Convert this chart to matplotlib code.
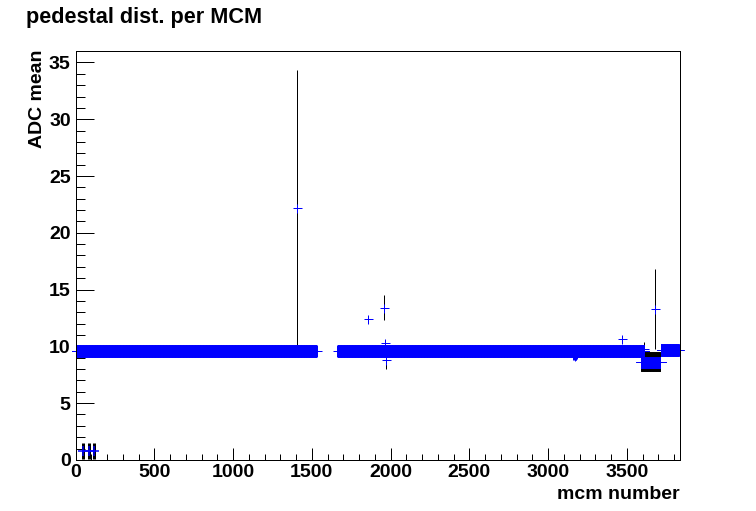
import numpy as np
import matplotlib
matplotlib.use("Agg")
import matplotlib.pyplot as plt
from matplotlib.path import Path
from matplotlib.ticker import MultipleLocator

plt.rcParams['font.family'] = ['Liberation Sans', 'DejaVu Sans']
plt.rcParams['font.weight'] = 'bold'

# ---------------- data ----------------
# regular pedestal band: segments of MCM numbers with their mean ADC level
band_start = [0, 1662, 3715]
band_end = [1530, 3612, 3830]
band_level = [9.6, 9.6, 9.65]

# small dip inside the band
dip_x = [3160, 3165, 3170, 3175, 3180, 3185]
dip_y = [9.35, 9.3, 9.25, 9.3, 9.35, 9.4]

# group of MCMs with lower pedestal and larger spread
block_start = 3590
block_end = 3712
block_level = 8.65
block_err = 0.85

# individual points with visible error bars
out_x = [1407, 1854, 1955, 1962, 1968, 3467, 3612, 3677]
out_y = [22.2, 12.4, 13.4, 10.3, 8.8, 10.65, 9.8, 13.3]
out_err = [12.1, 0.0, 1.1, 0.3, 0.8, 0.0, 0.55, 3.55]

# MCMs near zero
low_x = [46, 83, 115]
low_y = [0.75, 0.75, 0.75]
low_err = [0.7, 0.7, 0.7]

x_ticks = [0, 500, 1000, 1500, 2000, 2500, 3000, 3500]
y_ticks = [0, 5, 10, 15, 20, 25, 30, 35]
x_max = 3840
y_max = 36

title = "pedestal dist. per MCM"
x_title = "mcm number"
y_title = "ADC mean"

# ---------------- figure ----------------
DPI = 100
PX = 72.0 / DPI  # points per pixel
fig = plt.figure(figsize=(7.56, 5.11), dpi=DPI)
ax = fig.add_axes([0.1, 0.1, 0.8, 0.8])

blue = '#0000ff'

# band points
bx, by = [], []
for s, e, lv in zip(band_start, band_end, band_level):
    xs = np.arange(s, e + 1)
    bx.append(xs)
    by.append(np.full(xs.shape, lv))
bx = np.concatenate(bx)
by = np.concatenate(by)

band_marker = Path([(-0.375, 0), (0.375, 0), (0, -0.5), (0, 0.5)],
                   [Path.MOVETO, Path.LINETO, Path.MOVETO, Path.LINETO])

# block
kx = np.arange(block_start, block_end + 1)
ky = np.full(kx.shape, block_level)
ax.vlines(kx, ky - block_err, ky + block_err, color='black', lw=1 * PX, zorder=2)

# outlier and low error bars
ax.vlines(out_x, np.array(out_y) - np.array(out_err), np.array(out_y) + np.array(out_err),
          color='black', lw=1 * PX, zorder=2)
ax.vlines(low_x, np.array(low_y) - np.array(low_err), np.array(low_y) + np.array(low_err),
          color='black', lw=3 * PX, zorder=2)

ax.plot(bx, by, linestyle='none', marker=band_marker, ms=12 * PX, mew=1 * PX,
        color=blue, zorder=3, clip_on=False)
ax.plot(dip_x, dip_y, linestyle='none', marker=band_marker, ms=12 * PX, mew=1 * PX,
        color=blue, zorder=3)
ax.plot(kx, ky, linestyle='none', marker='+', ms=11 * PX, mew=1 * PX, color=blue, zorder=3)
ax.plot(out_x, out_y, linestyle='none', marker='+', ms=9 * PX, mew=1 * PX, color=blue, zorder=4)
ax.plot(low_x, low_y, linestyle='none', marker='+', ms=10 * PX, mew=1.5 * PX, color=blue, zorder=4)

ax.set_xlim(0, x_max)
ax.set_ylim(0, y_max)
ax.set_xticks(x_ticks)
ax.set_yticks(y_ticks)
ax.xaxis.set_minor_locator(MultipleLocator(100))
ax.yaxis.set_minor_locator(MultipleLocator(1))

ax.tick_params(axis='x', which='major', direction='in', length=12 * PX, width=1 * PX,
               labelsize=14, pad=3, top=False)
ax.tick_params(axis='x', which='minor', direction='in', length=6 * PX, width=1 * PX, top=False)
ax.tick_params(axis='y', which='major', direction='in', length=18 * PX, width=1 * PX,
               labelsize=14, pad=3.5, right=False)
ax.tick_params(axis='y', which='minor', direction='in', length=9 * PX, width=1 * PX, right=False)
for lab in ax.get_xticklabels() + ax.get_yticklabels():
    lab.set_fontweight('bold')

for sp in ax.spines.values():
    sp.set_linewidth(1 * PX)
    sp.set_zorder(5)

W, H = 756.0, 511.0
fig.text(26 / W, 1 - 23 / H, title, fontsize=15.6, fontweight='bold', ha='left', va='baseline')
fig.text(680 / W, 1 - 499 / H, x_title, fontsize=14, fontweight='bold', ha='right', va='baseline')
fig.text(37.5 / W, 1 - 50 / H, y_title, fontsize=14, fontweight='bold', rotation=90,
         ha='center', va='top')

fig.savefig('out.png', dpi=DPI)
